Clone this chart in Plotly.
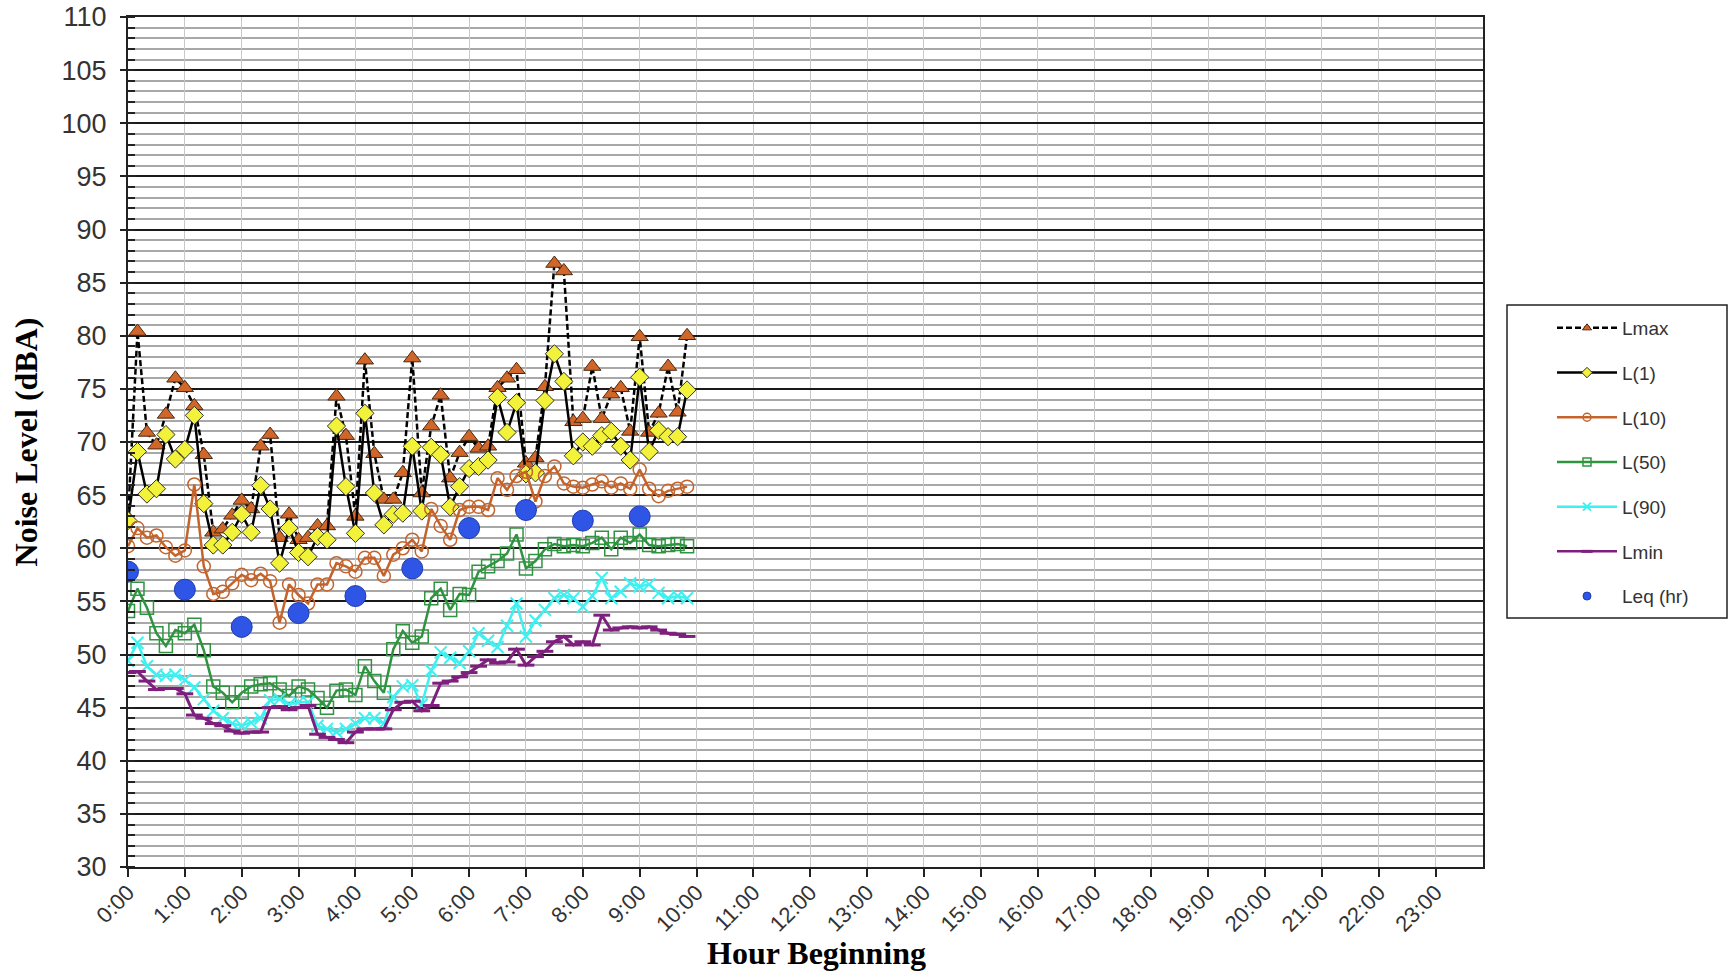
import plotly.graph_objects as go

# Sampling times: 10-minute intervals from 0:00 to 9:50
times = [f"{h}:{m:02d}" for h in range(10) for m in range(0, 60, 10)]
hour_labels = [f"{h}:00" for h in range(24)]

lmax = [62.8, 80.4, 70.9, 69.7, 72.6, 76.0, 75.1, 73.4, 68.8, 61.5,
        61.8, 63.1, 64.5, 63.7, 69.6, 70.7, 61.0, 63.2, 60.8, 61.0,
        62.1, 62.1, 74.3, 70.6, 63.0, 77.7, 68.9, 64.6, 64.6, 67.1,
        77.9, 65.2, 71.5, 74.4, 66.6, 69.0, 70.5, 69.4, 69.6, 75.1,
        76.0, 76.8, 68.0, 68.5, 75.2, 86.8, 86.1, 71.9, 72.2, 77.1,
        72.2, 74.5, 75.1, 71.0, 79.9, 70.9, 72.7, 77.1, 72.8, 80.0]
l1 = [62.6, 69.1, 65.1, 65.6, 70.7, 68.4, 69.3, 72.5, 64.2, 60.3,
      60.3, 61.5, 63.2, 61.5, 65.9, 63.7, 58.6, 61.9, 59.6, 59.2,
      61.1, 60.8, 71.5, 65.8, 61.4, 72.7, 65.2, 62.2, 63.2, 63.3,
      69.6, 63.5, 69.5, 68.8, 63.9, 65.8, 67.5, 67.7, 68.3, 74.2,
      70.9, 73.7, 67.0, 67.1, 73.9, 78.3, 75.7, 68.7, 70.0, 69.6,
      70.6, 71.0, 69.6, 68.3, 76.1, 69.1, 71.1, 70.5, 70.5, 74.9]
l10 = [60.2, 61.9, 61.0, 61.2, 60.1, 59.3, 59.8, 66.0, 58.3, 55.7,
       55.9, 56.7, 57.5, 57.0, 57.6, 56.9, 53.0, 56.6, 55.6, 54.8,
       56.6, 56.6, 58.6, 58.3, 57.8, 59.1, 59.1, 57.4, 59.4, 60.0,
       60.8, 59.7, 63.7, 62.1, 60.8, 63.6, 63.9, 63.9, 63.6, 66.6,
       65.5, 66.8, 67.2, 64.4, 66.8, 67.7, 66.1, 65.8, 65.7, 66.0,
       66.3, 65.7, 66.1, 65.6, 67.4, 65.6, 64.9, 65.4, 65.6, 65.8]
l50 = [54.1, 56.2, 54.4, 52.0, 50.8, 52.3, 52.0, 52.8, 50.4, 47.0,
       46.4, 45.5, 46.4, 47.0, 47.2, 47.3, 46.7, 46.1, 47.0, 46.7,
       45.9, 45.0, 46.6, 46.7, 46.2, 48.9, 47.5, 46.4, 50.5, 52.2,
       51.1, 51.7, 55.3, 56.2, 54.2, 55.7, 55.6, 57.8, 58.3, 58.8,
       59.5, 61.3, 58.1, 58.8, 59.9, 60.4, 60.2, 60.3, 60.2, 60.5,
       61.0, 59.9, 61.0, 60.5, 61.3, 60.3, 60.2, 60.3, 60.4, 60.2]
l90 = [49.4, 51.1, 48.9, 48.1, 48.0, 48.1, 47.6, 46.9, 45.8, 44.7,
       44.0, 43.5, 43.3, 43.6, 44.0, 45.7, 45.8, 45.3, 45.5, 45.5,
       43.3, 43.0, 42.7, 43.0, 43.5, 44.0, 44.0, 43.5, 46.0, 47.0,
       47.1, 45.3, 48.5, 50.2, 49.7, 49.2, 50.3, 52.0, 51.3, 50.7,
       52.7, 54.8, 51.7, 53.2, 54.2, 55.3, 55.6, 55.3, 54.5, 55.5,
       57.2, 55.3, 55.9, 56.7, 56.4, 56.6, 55.8, 55.3, 55.5, 55.3]
lmin = [48.3, 48.4, 47.5, 46.7, 46.8, 46.8, 46.3, 44.3, 44.0, 43.5,
        43.3, 42.8, 42.6, 42.7, 42.7, 45.0, 45.1, 44.8, 45.0, 45.2,
        42.5, 42.2, 42.0, 41.7, 42.7, 43.0, 43.0, 43.0, 44.8, 45.5,
        45.6, 44.7, 45.2, 47.3, 47.5, 47.9, 48.3, 48.9, 49.5, 49.2,
        49.3, 50.5, 49.0, 49.8, 50.3, 51.2, 51.7, 50.9, 51.2, 50.9,
        53.7, 52.3, 52.5, 52.6, 52.5, 52.6, 52.3, 52.0, 51.9, 51.7]
leq_hours = ["0:00", "1:00", "2:00", "3:00", "4:00", "5:00", "6:00", "7:00", "8:00", "9:00"]
leq = [57.8, 56.1, 52.6, 53.9, 55.5, 58.1, 61.9, 63.6, 62.6, 63.0]


def to_hours(label):
    h, m = label.split(":")
    return int(h) + int(m) / 60.0


x = [to_hours(t) for t in times]
x_leq = [to_hours(t) for t in leq_hours]

W, H = 1730, 976
L, R, T, B = 128, 247, 17, 109
PW, PH = W - L - R, H - T - B

fig = go.Figure()

series = [
    ("Lmax", lmax, dict(color="black", width=2.5, dash="6px,3px"),
     dict(symbol="triangle-up", size=15, color="#D0662A", line=dict(color="#4a2a10", width=1))),
    ("L(1)", l1, dict(color="black", width=2.5),
     dict(symbol="diamond", size=14, color="#F2F23A", line=dict(color="#303030", width=1))),
    ("L(10)", l10, dict(color="#C4642C", width=2.5),
     dict(symbol="circle-open", size=13, color="#C4642C", line=dict(width=1.5))),
    ("L(50)", l50, dict(color="#2E9440", width=2.5),
     dict(symbol="square-open", size=13, color="#2E9440", line=dict(width=1.5))),
    ("L(90)", l90, dict(color="#3FF0F0", width=2.5),
     dict(symbol="x-thin-open", size=12, color="#3FF0F0", line=dict(width=2))),
    ("Lmin", lmin, dict(color="#7E1F7E", width=3),
     dict(symbol="line-ew-open", size=12, color="#7E1F7E", line=dict(width=3))),
]

# Plotted series (legend entries are drawn by the compact key traces below)
for name, vals, ln, mk in series:
    fig.add_trace(go.Scatter(
        x=x, y=vals, name=name, mode="lines+markers",
        line=ln, marker=mk, showlegend=False,
    ))

leq_marker = dict(symbol="circle", color="#2F55E6", line=dict(color="#1E3AB0", width=1))
fig.add_trace(go.Scatter(
    x=x_leq, y=leq, name="Leq (hr)", mode="markers",
    marker=dict(size=21, **leq_marker), showlegend=False,
))

# Compact legend keys with small symbols
for i, (name, vals, ln, mk) in enumerate(series):
    key_marker = dict(mk)
    key_marker["size"] = 8
    key_line = dict(ln)
    key_line["width"] = 2.5
    fig.add_trace(go.Scatter(
        x=[None], y=[None], name=name, mode="lines+markers",
        line=key_line, marker=key_marker, legendgroup=f"g{i}",
    ))
fig.add_trace(go.Scatter(
    x=[None], y=[None], name="Leq (hr)", mode="markers",
    marker=dict(size=8, **leq_marker), legendgroup="g6",
))

# Legend frame
fig.add_shape(type="rect", xref="paper", yref="paper",
              x0=(1507 - L) / PW, x1=(1727 - L) / PW,
              y0=1 - (618 - T) / PH, y1=1 - (305 - T) / PH,
              line=dict(color="#222", width=1.5), fillcolor="white", layer="below")

ytick_font = dict(family="Liberation Sans, Arial", size=27, color="#333")
xtick_font = dict(family="Liberation Sans, Arial", size=22, color="#333")
title_font = dict(family="Liberation Serif, Times New Roman", size=32, color="black")

# X axis title
fig.add_annotation(text="<b>Hour Beginning</b>", xref="paper", yref="paper",
                   x=(816 - L) / PW, y=-(953 - (H - B)) / PH,
                   xanchor="center", yanchor="middle", showarrow=False,
                   font=title_font)

fig.update_layout(
    width=W, height=H,
    margin=dict(l=L, r=R, t=T, b=B, autoexpand=False),
    paper_bgcolor="white", plot_bgcolor="white",
    showlegend=True,
    legend=dict(
        x=(1552 - L) / PW, y=1 - (309 - T) / PH,
        xanchor="left", yanchor="top",
        font=dict(family="Liberation Sans, Arial", size=19, color="#333"),
        bgcolor="rgba(0,0,0,0)", borderwidth=0,
        traceorder="grouped", tracegroupgap=17, itemwidth=60,
    ),
    xaxis=dict(
        range=[0, 143 / 6], tickvals=list(range(24)), ticktext=hour_labels,
        tickangle=-45, tickfont=xtick_font, ticklabelstandoff=-6,
        ticks="outside", ticklen=8, tickwidth=2, tickcolor="#222",
        showgrid=True, gridcolor="#C8C8C8", gridwidth=1,
        showline=True, linecolor="#222", linewidth=2, mirror=True,
        zeroline=False, automargin=False,
    ),
    yaxis=dict(
        range=[30, 110], dtick=5, tickfont=ytick_font, ticklabelstandoff=8,
        ticks="outside", ticklen=6, tickwidth=2, tickcolor="#222",
        showgrid=True, gridcolor="#1a1a1a", gridwidth=2,
        minor=dict(dtick=1, showgrid=True, gridcolor="#A8A8A8", gridwidth=1.5,
                   ticks="inside", ticklen=7, tickcolor="#222", tickwidth=1.5),
        showline=True, linecolor="#222", linewidth=2, mirror=True,
        zeroline=False, automargin=False,
        title=dict(text="<b>Noise Level (dBA)</b>", font=title_font, standoff=14),
    ),
)

fig.write_html("out.html")
